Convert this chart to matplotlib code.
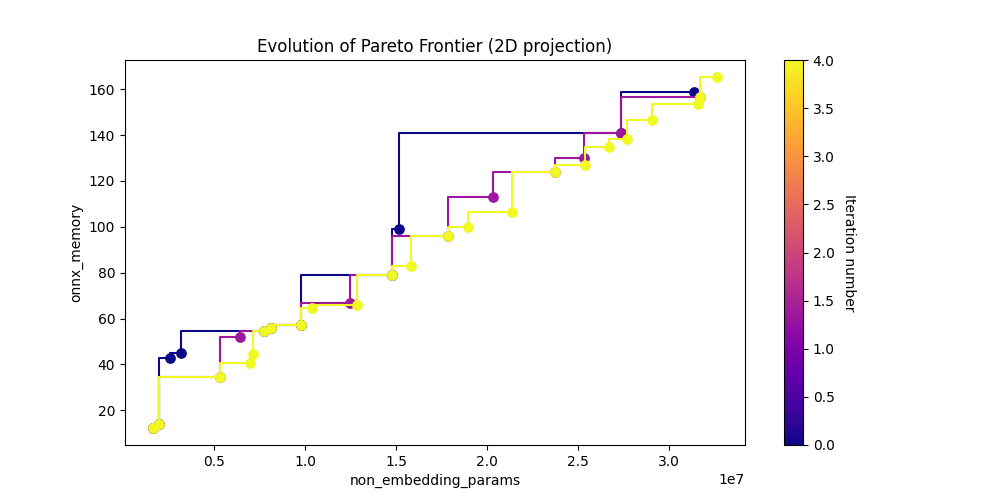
import numpy as np
import matplotlib
matplotlib.use("Agg")
import matplotlib.pyplot as plt
from matplotlib.colors import Normalize
from matplotlib.cm import ScalarMappable

# Pareto frontier per iteration (non_embedding_params, onnx_memory)
iter0_params = [1.64e6, 1.95e6, 2.55e6, 3.17e6, 7.74e6, 8.14e6, 9.77e6, 14.78e6, 15.16e6, 27.35e6, 31.37e6]
iter0_memory = [12.5, 13.9, 43.0, 45.2, 54.7, 56.1, 57.1, 78.9, 99.2, 140.8, 158.6]

iter1_params = [1.64e6, 1.95e6, 5.33e6, 6.43e6, 7.74e6, 8.14e6, 9.77e6, 12.46e6, 14.78e6,
                17.85e6, 20.31e6, 23.73e6, 25.34e6, 27.35e6, 31.68e6]
iter1_memory = [12.5, 13.9, 34.7, 52.1, 54.7, 56.1, 57.1, 67.0, 78.9,
                95.8, 113.2, 123.7, 129.8, 140.8, 156.8]

iter4_params = [1.64e6, 1.95e6, 5.33e6, 6.94e6, 7.10e6, 7.74e6, 8.14e6, 9.77e6, 10.39e6, 12.86e6,
                14.78e6, 15.82e6, 17.85e6, 18.94e6, 21.35e6, 23.73e6, 25.38e6, 26.67e6, 27.66e6,
                29.08e6, 31.61e6, 31.68e6, 32.62e6]
iter4_memory = [12.5, 13.9, 34.7, 40.8, 44.4, 54.7, 56.1, 57.1, 64.8, 65.9,
                78.9, 82.7, 95.8, 100.1, 106.5, 123.7, 127.0, 134.6, 138.5,
                146.6, 153.5, 156.8, 165.1]

frontiers = [(iter0_params, iter0_memory), (iter1_params, iter1_memory), (iter4_params, iter4_memory)]
n_iter = 4

fig, ax = plt.subplots(figsize=(10, 5), dpi=100)
cmap = plt.get_cmap("plasma")
colors = cmap(np.linspace(0, 1, len(frontiers) + 1))
colors = [colors[0], colors[1], colors[-1]]

for (px, py), c in zip(frontiers, colors):
    ax.step(px, py, where="pre", color=c, linewidth=1.5)
    ax.scatter(px, py, color=c, s=45, zorder=2)

ax.set_xlabel("non_embedding_params")
ax.set_ylabel("onnx_memory")
ax.set_title("Evolution of Pareto Frontier (2D projection)")

sm = ScalarMappable(cmap=cmap, norm=Normalize(vmin=0, vmax=n_iter))
sm.set_array([])
cbar = plt.colorbar(sm, ax=ax)
cbar.set_label("Iteration number", rotation=270, labelpad=15)

plt.savefig("out.png")
